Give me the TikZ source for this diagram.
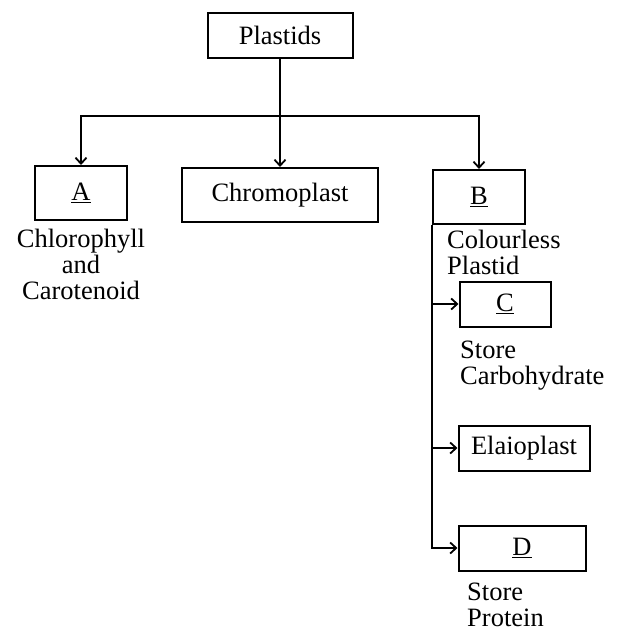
\documentclass[tikz,border=0pt]{standalone}
\usepackage{fontspec}
\setmainfont{Liberation Serif}
\usetikzlibrary{arrows.meta}
\tikzset{
  wire/.style={black, line width=2pt},
  flow/.style={wire, -{Straight Barb[length=6pt,width=11pt,line width=1.8pt]}},
  box/.style={draw=black, line width=2pt, inner sep=0pt,
              font=\fontsize{26.5}{26}\selectfont},
  note/.style={inner sep=0pt, font=\fontsize{26.5}{26}\selectfont},
}

\begin{document}
\begin{tikzpicture}[x=1pt,y=-1pt]
  \path[use as bounding box, fill=white] (0,0) rectangle (620,637);

  % Top level.
  \node[box, minimum width=145pt, minimum height=45pt] (plastids) at (280,35) {Plastids};
  \coordinate (split) at (280,116);

  \node[box, minimum width=92pt, minimum height=54pt] (boxA) at (81,193) {\underline{A}};
  \node[box, minimum width=196pt, minimum height=54pt] (chromo) at (280,195) {Chromoplast};
  \node[box, minimum width=92pt, minimum height=54pt] (boxB) at (479,197) {\underline{B}};

  \draw[wire] (plastids.south) -- (split);
  \draw[flow] (split) -| (boxA.north);
  \draw[flow] (split) -- (chromo.north);
  \draw[flow] (split) -| (boxB.north);

  \node[note, anchor=north, align=center] (chlnote) at (81,229)
    {Chlorophyll\\and\\Carotenoid};
  \node[note, anchor=north west, align=left] (bnote) at (447,230)
    {Colourless\\Plastid};

  % Colourless branch.
  \node[box, minimum width=91pt, minimum height=45pt] (boxC) at (505,304) {\underline{C}};
  \node[box, minimum width=131pt, minimum height=45pt] (elaio) at (524,448) {Elaioplast};
  \node[box, minimum width=127pt, minimum height=45pt] (boxD) at (522,548) {\underline{D}};

  \draw[flow] (boxB.south west) |- (boxC.west);
  \draw[flow] (boxB.south west) |- (elaio.west);
  \draw[flow] (boxB.south west) |- (boxD.west);

  \node[note, anchor=north west, align=left] (cnote) at (460,341)
    {Store\\Carbohydrate};
  \node[note, anchor=north west, align=left] (dnote) at (467,583)
    {Store\\Protein};
\end{tikzpicture}
\end{document}
